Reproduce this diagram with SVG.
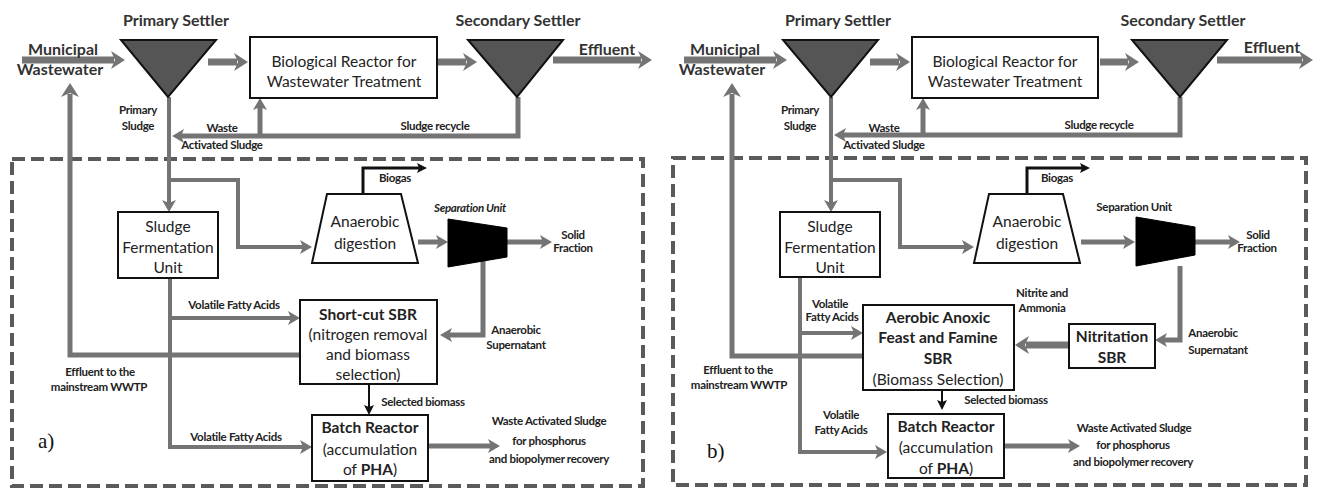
<svg xmlns="http://www.w3.org/2000/svg" width="1318" height="489" viewBox="0 0 1318 489">
  <style>
    .bg { fill: #ffffff; }
    .box { fill: #ffffff; stroke: #111; stroke-width: 2; }
    .settler { fill: #555; stroke: #111; stroke-width: 2; }
    .sep { fill: #000; stroke: #000; stroke-width: 1; }
    .frame { fill: none; stroke: #5a5a5a; stroke-width: 4; stroke-dasharray: 13 6; }
    .conn { fill: none; stroke: #747474; stroke-linejoin: miter; }
    .w7 { stroke-width: 7; }
    .w5 { stroke-width: 5; }
    .w4 { stroke-width: 4; }
    .blk { fill: none; stroke: #111; stroke-width: 3; }
    .t { font-family: Lato, "Open Sans", "Liberation Sans", sans-serif; fill: #222; text-anchor: middle; }
    .bx { font-size: 15.5px; }
    .bxb { font-size: 15.5px; font-weight: bold; }
    .hd { font-size: 16px; font-weight: bold; fill: #333; }
    .lb { font-size: 11.5px; font-weight: bold; letter-spacing: -0.3px; }
    .it { font-style: italic; }
    .tag { font-family: "Liberation Serif", "DejaVu Serif", serif; font-size: 21px; fill: #111; }
  </style>
  <defs>
    <marker id="g" viewBox="0 0 14 18" markerWidth="14" markerHeight="18" refX="3" refY="9" orient="auto" markerUnits="userSpaceOnUse">
      <path d="M0,0 L14,9 L0,18 L4,9 z" fill="#747474"/>
    </marker>
    <marker id="gs" viewBox="0 0 12 14" markerWidth="12" markerHeight="14" refX="3" refY="7" orient="auto" markerUnits="userSpaceOnUse">
      <path d="M0,0 L12,7 L0,14 L3,7 z" fill="#747474"/>
    </marker>
    <marker id="k" viewBox="0 0 10 10" markerWidth="10" markerHeight="10" refX="2" refY="5" orient="auto" markerUnits="userSpaceOnUse">
      <path d="M0,0 L10,5 L0,10 L2,5 z" fill="#111"/>
    </marker>
  </defs>
  <rect class="bg" x="0" y="0" width="1318" height="489"/>

  <!-- ===== Panel a ===== -->
  <g id="panel-a">
    <rect id="a-frame" class="frame" x="12" y="159" width="631" height="327"/>

    <g id="a-connectors">
      <path class="conn w7" d="M22,60 H114" marker-end="url(#g)"/>
      <path class="conn w7" d="M208,62 H237" marker-end="url(#g)"/>
      <path class="conn w7" d="M438,62 H466" marker-end="url(#g)"/>
      <path class="conn w7" d="M553,60 H641" marker-end="url(#g)"/>
      <path class="conn w5" d="M518,97 V136 H181" marker-end="url(#gs)"/>
      <path class="conn w5" d="M260,136 V107" marker-end="url(#gs)"/>
      <path class="conn w4" d="M169,97 V203" marker-end="url(#gs)"/>
      <path class="conn w4" d="M169,180 H238 V247 H303" marker-end="url(#gs)"/>
      <path class="conn w5" d="M300,355 H70 V94" marker-end="url(#g)"/>
      <path class="conn w4" d="M170,278 V447 H303" marker-end="url(#gs)"/>
      <path class="conn w4" d="M170,318 H291" marker-end="url(#gs)"/>
      <path class="blk" d="M363,194 V168 H419" marker-end="url(#k)"/>
      <path class="conn w5" d="M418,242 H439" marker-end="url(#gs)"/>
      <path class="conn w5" d="M507,242 H543" marker-end="url(#gs)"/>
      <path class="conn w5" d="M483,258 V335 H449" marker-end="url(#gs)"/>
      <path class="blk" d="M369,384 V407" marker-end="url(#k)" style="stroke-width:2"/>
      <path class="conn w5" d="M428,446 H491" marker-end="url(#gs)"/>
    </g>

    <g id="a-primary-settler">
      <polygon class="settler" points="121,40 216,40 168,97"/>
      <text class="t hd" x="176" y="26">Primary Settler</text>
    </g>
    <g id="a-bio-reactor">
      <rect class="box" x="250" y="37" width="187" height="61"/>
      <text class="t bx" x="344" y="67">Biological Reactor for</text>
      <text class="t bx" x="344" y="87">Wastewater Treatment</text>
    </g>
    <g id="a-secondary-settler">
      <polygon class="settler" points="468,40 563,40 517,97"/>
      <text class="t hd" x="518" y="26">Secondary Settler</text>
    </g>
    <g id="a-sfu">
      <rect class="box" x="118" y="212" width="100" height="66"/>
      <text class="t bx" x="168" y="232">Sludge</text>
      <text class="t bx" x="168" y="253">Fermentation</text>
      <text class="t bx" x="168" y="273">Unit</text>
    </g>
    <g id="a-anaerobic-digestion">
      <polygon class="box" points="327,194 401,194 418,263 312,263"/>
      <text class="t bx" x="365" y="227">Anaerobic</text>
      <text class="t bx" x="365" y="249">digestion</text>
    </g>
    <g id="a-separation-unit">
      <polygon class="sep" points="448,219 507,228 507,257 448,267"/>
      <text class="t lb it" x="470" y="212">Separation Unit</text>
    </g>
    <g id="a-shortcut-sbr">
      <rect class="box" x="300" y="300" width="137" height="84"/>
      <text class="t bxb" x="368" y="320">Short-cut SBR</text>
      <text class="t bx" x="368" y="340">(nitrogen removal</text>
      <text class="t bx" x="368" y="360">and biomass</text>
      <text class="t bx" x="368" y="380">selection)</text>
    </g>
    <g id="a-batch-reactor">
      <rect class="box" x="312" y="415" width="116" height="66"/>
      <text class="t bxb" x="370" y="433">Batch Reactor</text>
      <text class="t bx" x="370" y="455">(accumulation</text>
      <text class="t bx" x="370" y="475">of <tspan font-weight="bold">PHA</tspan>)</text>
    </g>

    <g id="a-labels">
      <text class="t hd" x="63" y="55">Municipal</text>
      <text class="t hd" x="60" y="75">Wastewater</text>
      <text class="t hd" x="607" y="55">Effluent</text>
      <text class="t lb" x="138" y="114">Primary</text>
      <text class="t lb" x="138" y="130">Sludge</text>
      <text class="t lb" x="222" y="132">Waste</text>
      <text class="t lb" x="222" y="149">Activated Sludge</text>
      <text class="t lb" x="435" y="130">Sludge recycle</text>
      <text class="t lb" x="395" y="182">Biogas</text>
      <text class="t lb" x="573" y="239">Solid</text>
      <text class="t lb" x="573" y="252">Fraction</text>
      <text class="t lb" x="234" y="309">Volatile Fatty Acids</text>
      <text class="t lb" x="516" y="334">Anaerobic</text>
      <text class="t lb" x="516" y="349">Supernatant</text>
      <text class="t lb" x="100" y="376">Effluent to the</text>
      <text class="t lb" x="99" y="391">mainstream WWTP</text>
      <text class="t lb" x="423" y="406">Selected biomass</text>
      <text class="t lb" x="236" y="441">Volatile Fatty Acids</text>
      <text class="t lb" x="549" y="425">Waste Activated Sludge</text>
      <text class="t lb" x="549" y="445">for phosphorus</text>
      <text class="t lb" x="549" y="463">and biopolymer recovery</text>
      <text class="tag" x="38" y="448">a)</text>
    </g>
  </g>

  <!-- ===== Panel b ===== -->
  <g id="panel-b" transform="translate(662,0)">
    <rect id="b-frame" class="frame" x="11" y="158" width="633" height="327"/>

    <g id="b-connectors">
      <path class="conn w7" d="M22,60 H114" marker-end="url(#g)"/>
      <path class="conn w7" d="M208,62 H237" marker-end="url(#g)"/>
      <path class="conn w7" d="M438,62 H466" marker-end="url(#g)"/>
      <path class="conn w7" d="M555,60 H640" marker-end="url(#g)"/>
      <path class="conn w5" d="M518,97 V135 H181" marker-end="url(#gs)"/>
      <path class="conn w5" d="M261,135 V107" marker-end="url(#gs)"/>
      <path class="conn w4" d="M169,97 V203" marker-end="url(#gs)"/>
      <path class="conn w4" d="M169,180 H238 V247 H303" marker-end="url(#gs)"/>
      <path class="conn w5" d="M201,356 H70 V94" marker-end="url(#g)"/>
      <path class="conn w4" d="M138,277 V452 H216" marker-end="url(#gs)"/>
      <path class="conn w4" d="M138,333 H192" marker-end="url(#gs)"/>
      <path class="blk" d="M365,194 V168 H420" marker-end="url(#k)"/>
      <path class="conn w5" d="M419,242 H464" marker-end="url(#gs)"/>
      <path class="conn w5" d="M533,242 H569" marker-end="url(#gs)"/>
      <path class="conn w5" d="M518,266 V340 H502" marker-end="url(#gs)"/>
      <path class="conn w7" d="M407,345 H364" marker-end="url(#g)"/>
      <path class="blk" d="M280,390 V402" marker-end="url(#k)" style="stroke-width:2"/>
      <path class="conn w5" d="M342,446 H409" marker-end="url(#gs)"/>
    </g>

    <g id="b-primary-settler">
      <polygon class="settler" points="121,40 216,40 169,97"/>
      <text class="t hd" x="176" y="26">Primary Settler</text>
    </g>
    <g id="b-bio-reactor">
      <rect class="box" x="250" y="37" width="186" height="61"/>
      <text class="t bx" x="343" y="67">Biological Reactor for</text>
      <text class="t bx" x="343" y="87">Wastewater Treatment</text>
    </g>
    <g id="b-secondary-settler">
      <polygon class="settler" points="470,40 565,40 518,97"/>
      <text class="t hd" x="521" y="26">Secondary Settler</text>
    </g>
    <g id="b-sfu">
      <rect class="box" x="118" y="212" width="100" height="65"/>
      <text class="t bx" x="168" y="232">Sludge</text>
      <text class="t bx" x="168" y="253">Fermentation</text>
      <text class="t bx" x="168" y="273">Unit</text>
    </g>
    <g id="b-anaerobic-digestion">
      <polygon class="box" points="327,194 401,194 418,263 312,263"/>
      <text class="t bx" x="365" y="227">Anaerobic</text>
      <text class="t bx" x="365" y="249">digestion</text>
    </g>
    <g id="b-separation-unit">
      <polygon class="sep" points="474,217 533,227 533,255 474,266"/>
      <text class="t lb" x="472" y="211">Separation Unit</text>
    </g>
    <g id="b-aerobic-sbr">
      <rect class="box" x="201" y="305" width="151" height="85"/>
      <text class="t bxb" x="276" y="323">Aerobic Anoxic</text>
      <text class="t bxb" x="276" y="343">Feast and Famine</text>
      <text class="t bxb" x="276" y="364">SBR</text>
      <text class="t bx" x="276" y="385">(Biomass Selection)</text>
    </g>
    <g id="b-nitritation-sbr">
      <rect class="box" x="407" y="324" width="86" height="44"/>
      <text class="t bxb" x="450" y="342">Nitritation</text>
      <text class="t bxb" x="450" y="363">SBR</text>
    </g>
    <g id="b-batch-reactor">
      <rect class="box" x="226" y="414" width="116" height="64"/>
      <text class="t bxb" x="284" y="432">Batch Reactor</text>
      <text class="t bx" x="284" y="453">(accumulation</text>
      <text class="t bx" x="284" y="474">of <tspan font-weight="bold">PHA</tspan>)</text>
    </g>

    <g id="b-labels">
      <text class="t hd" x="63" y="55">Municipal</text>
      <text class="t hd" x="60" y="75">Wastewater</text>
      <text class="t hd" x="610" y="53">Effluent</text>
      <text class="t lb" x="138" y="114">Primary</text>
      <text class="t lb" x="138" y="130">Sludge</text>
      <text class="t lb" x="222" y="132">Waste</text>
      <text class="t lb" x="222" y="149">Activated Sludge</text>
      <text class="t lb" x="437" y="129">Sludge recycle</text>
      <text class="t lb" x="395" y="182">Biogas</text>
      <text class="t lb" x="596" y="239">Solid</text>
      <text class="t lb" x="595" y="252">Fraction</text>
      <text class="t lb" x="380" y="297">Nitrite and</text>
      <text class="t lb" x="380" y="312">Ammonia</text>
      <text class="t lb" x="168" y="308">Volatile</text>
      <text class="t lb" x="170" y="321">Fatty Acids</text>
      <text class="t lb" x="551" y="337">Anaerobic</text>
      <text class="t lb" x="556" y="354">Supernatant</text>
      <text class="t lb" x="76" y="374">Effluent to the</text>
      <text class="t lb" x="77" y="389">mainstream WWTP</text>
      <text class="t lb" x="344" y="404">Selected biomass</text>
      <text class="t lb" x="179" y="419">Volatile</text>
      <text class="t lb" x="179" y="434">Fatty Acids</text>
      <text class="t lb" x="472" y="432">Waste Activated Sludge</text>
      <text class="t lb" x="471" y="449">for phosphorus</text>
      <text class="t lb" x="471" y="466">and biopolymer recovery</text>
      <text class="tag" x="45" y="458">b)</text>
    </g>
  </g>
</svg>
